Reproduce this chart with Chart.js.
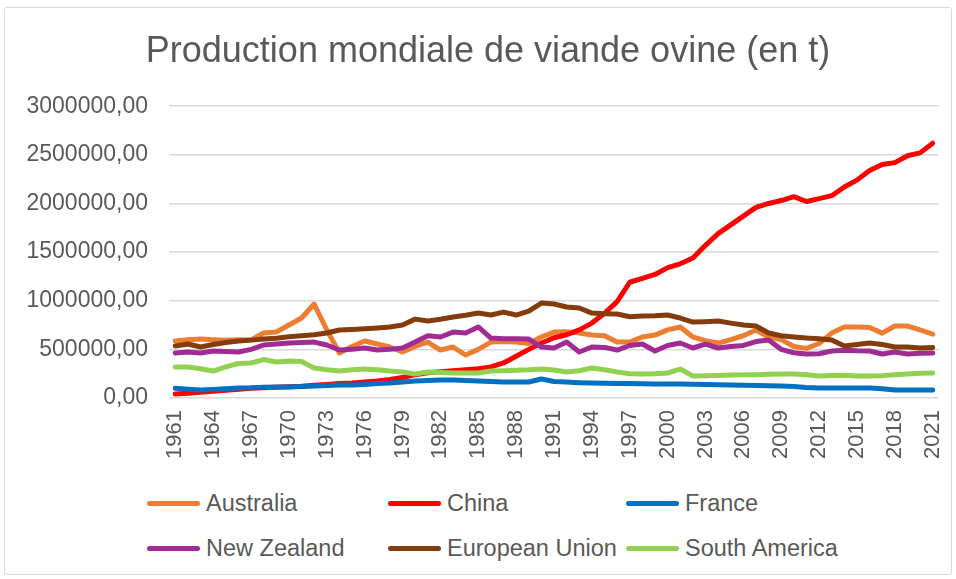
<!DOCTYPE html>
<html lang="fr">
<head>
<meta charset="utf-8">
<title>Production mondiale de viande ovine</title>
<script src="https://cdn.jsdelivr.net/npm/chart.js@4.4.1/dist/chart.umd.min.js"></script>
<style>
    html, body { margin: 0; padding: 0; background: #ffffff; }
    body { width: 956px; height: 579px; position: relative; overflow: hidden; font-family: "Liberation Sans", Arial, sans-serif; }
    #frame { position: absolute; left: 4px; top: 7px; width: 946px; height: 566px; border: 1px solid #d9d9d9; border-radius: 3px; }
    #chart { position: absolute; left: 0; top: 0; }
    .leg { position: absolute; height: 26px; line-height: 26px; font-size: 23.5px; color: #595959; white-space: nowrap; }
    .leg i { display: inline-block; width: 53px; height: 5px; border-radius: 3px; vertical-align: middle; margin-right: 6px; position: relative; top: -1px; }
</style>
</head>
<body>
<div id="frame"></div>
<canvas id="chart" width="956" height="470"></canvas>
<div id="legend"></div>
<script>
// years 1961 .. 2021
const years = [];
for (let y = 1961; y <= 2021; y++) years.push(String(y));

const seriesNames = ["Australia", "China", "France", "New Zealand", "European Union", "South America"];
const seriesColors = ["#ED7D31", "#FF0000", "#0070C0", "#A02B93", "#843C0C", "#92D050"];

// values, tonnes
const australia = [
    586000, 600000, 606000, 600000, 595000, 600000, 596000, 668000, 678000, 750000,
    822000, 966000, 700000, 462000, 530000, 586000, 555000, 524000, 473000, 530000,
    575000, 493000, 524000, 442000, 500000, 575000, 580000, 575000, 560000, 627000,
    678000, 680000, 668000, 647000, 640000, 575000, 575000, 627000, 647000, 700000,
    730000, 627000, 590000, 565000, 600000, 640000, 699000, 627000, 600000, 530000,
    510000, 560000, 667000, 730000, 730000, 725000, 667000, 740000, 740000, 700000,
    657000
];
const china = [
    40000, 50000, 60000, 70000, 80000, 90000, 100000, 105000, 110000, 115000,
    120000, 130000, 140000, 150000, 155000, 165000, 175000, 190000, 210000, 240000,
    260000, 270000, 280000, 290000, 300000, 320000, 360000, 430000, 500000, 565000,
    620000, 650000, 700000, 770000, 870000, 990000, 1190000, 1230000, 1270000, 1340000,
    1380000, 1440000, 1570000, 1690000, 1780000, 1870000, 1960000, 2000000, 2030000, 2070000,
    2020000, 2050000, 2080000, 2170000, 2240000, 2340000, 2400000, 2420000, 2490000, 2520000,
    2620000
];
const france = [
    100000, 90000, 82000, 88000, 95000, 103000, 105000, 110000, 112000, 113000,
    118000, 123000, 128000, 134000, 134000, 140000, 148000, 154000, 165000, 175000,
    180000, 185000, 185000, 180000, 175000, 170000, 165000, 164000, 164000, 195000,
    170000, 164000, 158000, 154000, 152000, 150000, 148000, 146000, 145000, 145000,
    144000, 142000, 138000, 136000, 134000, 132000, 128000, 125000, 123000, 118000,
    108000, 103000, 103000, 103000, 103000, 103000, 95000, 82000, 82000, 82000,
    82000
];
const newZealand = [
    462000, 473000, 462000, 483000, 478000, 473000, 500000, 545000, 555000, 565000,
    570000, 575000, 545000, 493000, 500000, 514000, 493000, 500000, 514000, 575000,
    640000, 627000, 678000, 668000, 730000, 616000, 610000, 610000, 606000, 524000,
    514000, 575000, 473000, 524000, 520000, 493000, 540000, 555000, 483000, 540000,
    565000, 514000, 555000, 514000, 530000, 540000, 580000, 596000, 500000, 465000,
    452000, 455000, 483000, 490000, 485000, 483000, 452000, 473000, 452000, 460000,
    462000
];
const europeanUnion = [
    534000, 555000, 524000, 550000, 570000, 585000, 595000, 606000, 615000, 630000,
    640000, 650000, 668000, 699000, 705000, 712000, 720000, 730000, 750000, 811000,
    791000, 810000, 832000, 850000, 873000, 853000, 883000, 853000, 894000, 976000,
    966000, 935000, 925000, 873000, 865000, 863000, 835000, 842000, 845000, 853000,
    822000, 781000, 785000, 791000, 770000, 750000, 740000, 668000, 640000, 627000,
    616000, 610000, 596000, 534000, 550000, 565000, 550000, 524000, 524000, 514000,
    520000
];
const southAmerica = [
    318000, 318000, 300000, 277000, 320000, 355000, 360000, 395000, 370000, 380000,
    375000, 308000, 290000, 277000, 290000, 298000, 290000, 277000, 267000, 247000,
    267000, 262000, 257000, 257000, 257000, 277000, 280000, 285000, 290000, 298000,
    288000, 267000, 280000, 308000, 290000, 267000, 250000, 247000, 250000, 257000,
    298000, 226000, 230000, 232000, 236000, 240000, 240000, 243000, 247000, 247000,
    240000, 226000, 232000, 235000, 226000, 226000, 230000, 240000, 247000, 255000,
    257000
];
const seriesValues = [australia, china, france, newZealand, europeanUnion, southAmerica];

const yMax = 3000000;
const yStep = 500000;

const textColor = "#595959";
const fontFamily = "'Liberation Sans', Arial, sans-serif";

const datasets = seriesNames.map((name, i) => ({
    label: name,
    data: seriesValues[i],
    borderColor: seriesColors[i],
    backgroundColor: seriesColors[i],
    borderWidth: 5,
    pointRadius: 0,
    tension: 0,
    borderCapStyle: "round",
    borderJoinStyle: "round",
    // excel draws later series on top
    order: seriesNames.length - i,
}));

// excel centres the title a little right of the canvas middle
const titleShift = {
    id: "titleShift",
    afterLayout(chart) {
        if (chart.titleBlock) chart.titleBlock.left += 13;
    },
};

new Chart(document.getElementById("chart").getContext("2d"), {
    type: "line",
    data: { labels: years, datasets },
    plugins: [titleShift],
    options: {
        responsive: false,
        animation: false,
        layout: { padding: { left: 24, right: 17, top: 0, bottom: 0 } },
        plugins: {
            legend: { display: false },
            tooltip: { enabled: false },
            title: {
                display: true,
                text: "Production mondiale de viande ovine (en t)",
                color: textColor,
                font: { family: fontFamily, size: 36, weight: "normal" },
                padding: { top: 30, bottom: 33 },
            },
        },
        scales: {
            x: {
                offset: true,
                grid: { display: false, drawTicks: false },
                border: { display: false },
                afterFit: (scale) => {
                    scale.height = 72;
                    // rotated end labels should not shrink the plot
                    scale.paddingLeft = 0;
                    scale.paddingRight = 0;
                },
                ticks: {
                    autoSkip: false,
                    minRotation: 90,
                    maxRotation: 90,
                    padding: 12,
                    color: textColor,
                    font: { family: fontFamily, size: 22 },
                    callback: function (value, index) {
                        return index % 3 === 0 ? years[index] : "";
                    },
                },
            },
            y: {
                min: 0,
                max: yMax,
                grid: { color: "#d9d9d9", lineWidth: 1.5, drawTicks: false },
                border: { display: false },
                afterFit: (scale) => { scale.width = 145; },
                ticks: {
                    stepSize: yStep,
                    padding: 21,
                    color: textColor,
                    font: { family: fontFamily, size: 23 },
                    callback: (v) => v.toFixed(2).replace(".", ","),
                },
            },
        },
    },
});

// legend laid out like the excel one: 3 columns, 2 rows
const legendCols = [147, 388, 626];
const legendRows = [490, 535];
const legendBox = document.getElementById("legend");
seriesNames.forEach((name, i) => {
    const el = document.createElement("div");
    el.className = "leg";
    el.style.left = legendCols[i % 3] + "px";
    el.style.top = legendRows[Math.floor(i / 3)] + "px";
    el.innerHTML = '<i style="background:' + seriesColors[i] + '"></i>' + name;
    legendBox.appendChild(el);
});
</script>
</body>
</html>
